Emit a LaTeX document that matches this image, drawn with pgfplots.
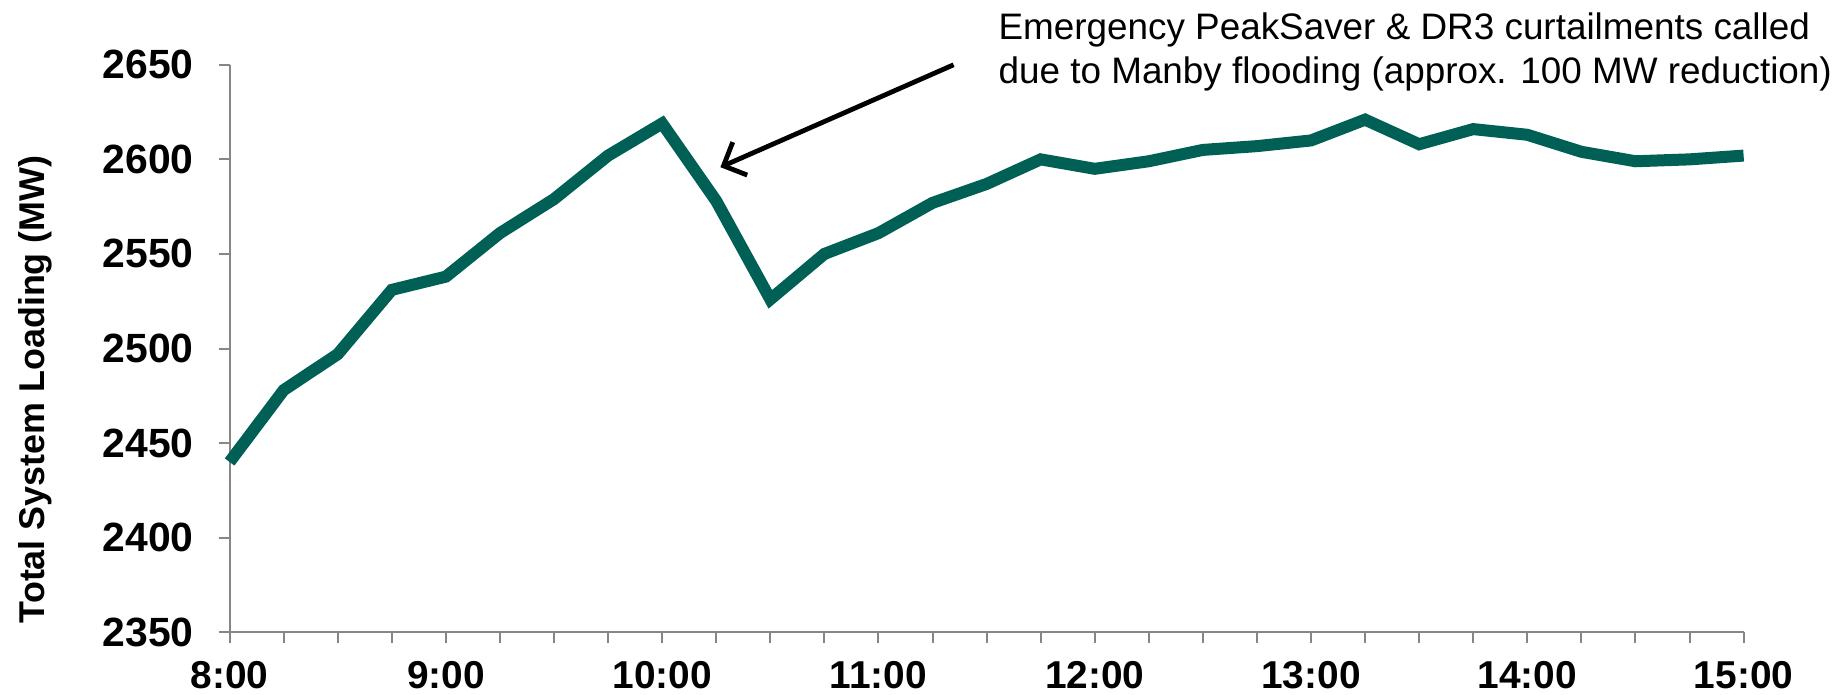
\documentclass[border=0pt]{standalone}
\usepackage{fontspec}
\setmainfont{Liberation Sans}
\usepackage{pgfplots}
\pgfplotsset{compat=1.18}
\usetikzlibrary{arrows.meta}
\definecolor{linecol}{RGB}{0,96,86}
\definecolor{axgray}{RGB}{134,134,134}
\pgfplotstableread{
t load
8.00 2440
8.25 2478
8.50 2497
8.75 2531
9.00 2538
9.25 2561
9.50 2579
9.75 2602
10.00 2619
10.25 2578
10.50 2526
10.75 2550
11.00 2561
11.25 2577
11.50 2587
11.75 2600
12.00 2595
12.25 2599
12.50 2605
12.75 2607
13.00 2610
13.25 2621
13.50 2608
13.75 2616
14.00 2613
14.25 2604
14.50 2599
14.75 2600
15.00 2602
}\loaddata
\begin{document}
\begin{tikzpicture}
\path[use as bounding box] (-114.8bp,-31bp) rectangle (808.2bp,316.1bp);
\begin{axis}[
  at={(0,0)}, anchor=south west,
  scale only axis, width=757bp, height=283.7bp,
  xmin=8, xmax=15, ymin=2350, ymax=2650,
  axis x line*=bottom, axis y line*=left,
  axis line style={axgray, line width=1bp},
  xtick={8,...,15},
  xticklabels={8:00,9:00,10:00,11:00,12:00,13:00,14:00,15:00},
  minor xtick={8,8.25,...,15},
  ytick={2350,2400,...,2650},
  tick style={axgray, line width=1bp},
  tick align=outside,
  major tick length=5.5bp, minor tick length=5.5bp,
  xticklabel style={font=\fontsize{19.5}{21}\selectfont\bfseries, inner sep=0pt, yshift=-8.8bp},
  yticklabel style={font=\fontsize{20.5}{22}\selectfont\bfseries, xshift=-9bp},
  /pgf/number format/assume math mode=true,
  /pgf/number format/1000 sep={},
  ylabel={Total System Loading (MW)},
  ylabel style={font=\fontsize{18}{20}\selectfont\bfseries, at={(axis description cs:-0.128,0.428)}, anchor=center},
  clip=false,
]
\addplot[linecol, line width=6bp, line join=miter] table[x=t, y=load] {\loaddata};
\end{axis}
\node[anchor=north west, inner sep=0pt, align=left, font=\fontsize{18.5}{22.2}\selectfont] at (384.3bp,310bp)
  {Emergency PeakSaver \& DR3 curtailments called\\due to Manby flooding (approx. 100 MW reduction)};
\draw[line width=2.4bp, -{Straight Barb[length=9bp, width=18bp]}] (362bp,283.7bp) -- (245.4bp,232.5bp);
\end{tikzpicture}
\end{document}
